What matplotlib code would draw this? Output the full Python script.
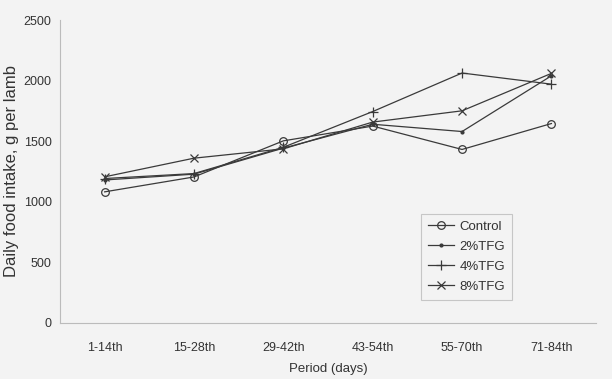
import matplotlib
matplotlib.use("Agg")
import matplotlib.pyplot as plt
from matplotlib import font_manager

periods = ["1-14th", "15-28th", "29-42th", "43-54th", "55-70th", "71-84th"]
control = [1082, 1205, 1503, 1625, 1432, 1646]
tfg2 = [1180, 1228, 1443, 1640, 1580, 2040]
tfg4 = [1192, 1233, 1450, 1745, 2063, 1971]
tfg8 = [1206, 1360, 1437, 1658, 1751, 2060]

names = {f.name for f in font_manager.fontManager.ttflist}
fam = ["Liberation Sans Narrow"] if "Liberation Sans Narrow" in names else ["Liberation Sans"]
plt.rcParams["font.family"] = fam + ["DejaVu Sans"]

bg = "#f3f3f3"
fig = plt.figure(figsize=(6.12, 3.79), dpi=100, facecolor=bg)
ax = fig.add_axes([0.098, 0.148, 0.876, 0.799], facecolor=bg)

x = list(range(len(periods)))
c = "#3a3a3a"
ax.plot(x, control, color=c, lw=0.9, marker="o", ms=5.5, mfc="none", mec=c, mew=0.9, label="Control")
ax.plot(x, tfg2, color=c, lw=0.9, marker=".", ms=4, label="2%TFG")
ax.plot(x, tfg4, color=c, lw=0.9, marker="+", ms=7, mew=0.9, label="4%TFG")
ax.plot(x, tfg8, color=c, lw=0.9, marker="x", ms=5.5, mew=0.9, label="8%TFG")

ax.set_xlim(-0.5, len(periods) - 0.5)
ax.set_ylim(0, 2500)
ax.set_yticks([0, 500, 1000, 1500, 2000, 2500])
ax.set_xticks(x)
ax.set_xticklabels(periods)
ax.tick_params(axis="x", length=0, pad=14, labelsize=9, colors="#333333")
ax.tick_params(axis="y", length=0, pad=6, labelsize=9, colors="#333333")
for s in ["top", "right"]:
    ax.spines[s].set_visible(False)
for s in ["left", "bottom"]:
    ax.spines[s].set_color("#bbbbbb")
    ax.spines[s].set_linewidth(0.8)

ax.set_xlabel("Period (days)", fontsize=9.5, color="#333333", labelpad=6)
ax.set_ylabel("Daily food intake, g per lamb", fontsize=12, color="#333333", labelpad=3)

leg = ax.legend(loc="lower left", bbox_to_anchor=(0.662, 0.055), fontsize=9.5,
                frameon=True, fancybox=False, edgecolor="#bbbbbb", facecolor=bg,
                handlelength=2.0, handletextpad=0.4, labelspacing=0.6, borderpad=0.5)
leg.get_frame().set_linewidth(0.8)
for t in leg.get_texts():
    t.set_color("#333333")

fig.savefig("out.png", dpi=100, facecolor=bg)
